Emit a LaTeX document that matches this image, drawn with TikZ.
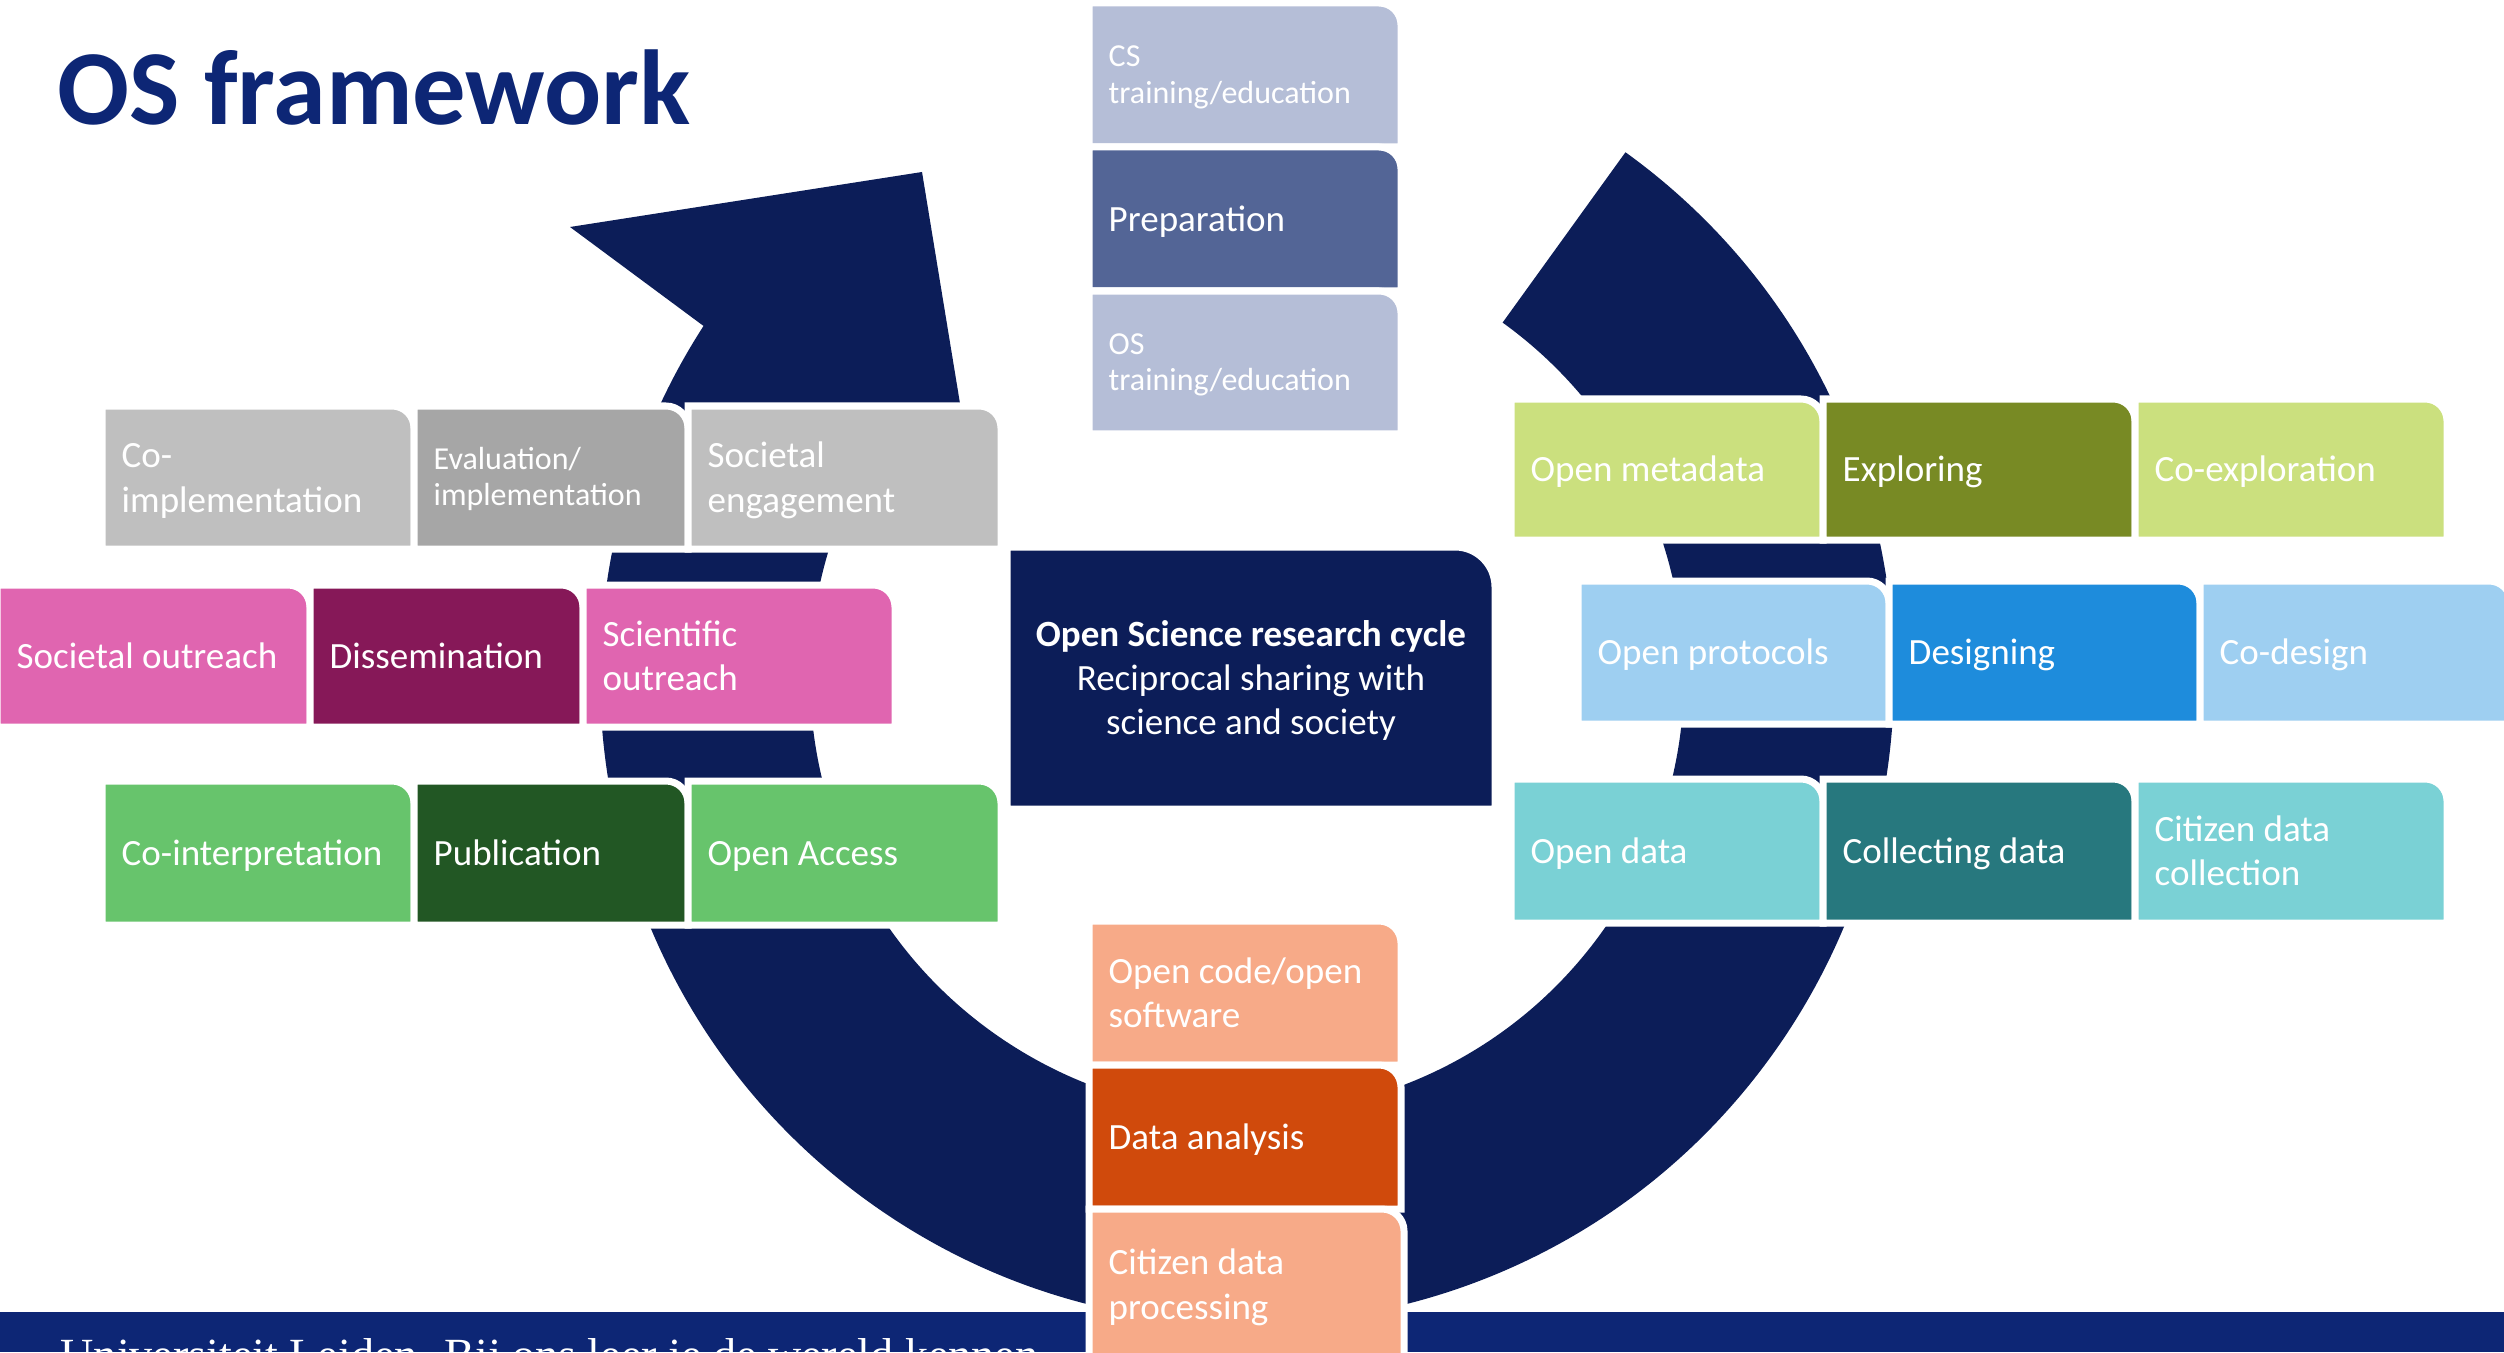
\documentclass[tikz,border=0pt]{standalone}
\usepackage{fontspec}
\setmainfont{Carlito}
\newfontfamily\bannerfont{Liberation Serif}
\definecolor{ringnavy}{RGB}{12,29,88}
\definecolor{leiden}{RGB}{13,38,117}
\definecolor{grayA}{RGB}{191,191,191}
\definecolor{grayB}{RGB}{166,166,166}
\definecolor{pinkA}{RGB}{224,101,176}
\definecolor{pinkB}{RGB}{134,24,88}
\definecolor{greenA}{RGB}{103,196,108}
\definecolor{greenB}{RGB}{34,87,36}
\definecolor{yellowA}{RGB}{203,224,126}
\definecolor{yellowB}{RGB}{120,138,36}
\definecolor{blueA}{RGB}{158,207,241}
\definecolor{blueB}{RGB}{30,140,220}
\definecolor{tealA}{RGB}{122,209,213}
\definecolor{tealB}{RGB}{39,120,126}
\definecolor{lavA}{RGB}{181,190,215}
\definecolor{lavB}{RGB}{83,101,150}
\definecolor{salmonA}{RGB}{247,170,136}
\definecolor{salmonB}{RGB}{208,74,12}
\newcommand\normtxt{\fontsize{10.53}{12.6}\selectfont}
\newcommand\smalltxt{\fontsize{9.1}{10.5}\selectfont}
\newcommand\tSx{}
\newcommand\bSx{}
\tikzset{
  boxshape/.style={draw=white, line width=0.07cm},
  boxtext/.style={text=white, inner sep=0pt, align=left, anchor=west, font=\normtxt,
    /utils/exec={\def\tSx{\rule{0pt}{10.1pt}}\def\bSx{\rule[-3pt]{0pt}{3pt}}}},
  smallboxtext/.style={boxtext, font=\smalltxt,
    /utils/exec={\def\tSx{\rule{0pt}{9pt}}\def\bSx{\rule[-3.3pt]{0pt}{3.3pt}}}},
}
% name, x1, y1, x2, y2, fill, text, text style
\newcommand\obox[8]{%
  \path[boxshape, fill=#6] (#2,#3) -- ({#4-22},#3) arc[start angle=-90, end angle=0, radius=22] -- (#4,#5) -- (#2,#5) -- cycle;
  \node[#8] (#1) at ({#2+19},{(#3+#5)/2}) {\tSx #7\bSx};
}
\begin{document}
\begin{tikzpicture}[x=0.01cm, y=-0.01cm]
\useasboundingbox (0,0) rectangle (2504,1352);
\begin{scope}
\clip (0,0) rectangle (2504,1352);
\fill[white] (0,0) rectangle (2504,1352);

% title
\node[anchor=base west, inner sep=0pt, text=leiden, font=\fontsize{30.3}{36}\selectfont\bfseries] (title) at (57,125) {OS framework};

% circular arrow
\begin{scope}[shift={(1247,677)}, yscale=-1]
  \fill[ringnavy] (54.2:647) arc[start angle=54.2, end angle=-212.86, radius=647]
    -- (-677,450) -- (-325,505) -- (-271,176)
    -- (147.14:437) arc[start angle=147.14, end angle=414.2, radius=437] -- cycle;
\end{scope}

% banner
\fill[leiden] (0,1312) rectangle (2504,1352);
\node[anchor=base west, inner sep=0pt, text=white, font=\bannerfont\fontsize{13.1}{15}\selectfont] (banner) at (60,1370) {Universiteit Leiden. Bij ons leer je de wereld kennen};

% left rows
\obox{coimpl}{102}{406}{414}{549}{grayA}{Co-\\implementation}{boxtext}
\obox{evalimpl}{414}{406}{688}{549}{grayB}{Evaluation/\\implementation}{smallboxtext}
\obox{soceng}{688}{406}{1001}{549}{grayA}{Societal\\engagement}{boxtext}

\obox{socout}{-3}{585}{310}{727}{pinkA}{Societal outreach}{boxtext}
\obox{dissem}{310}{585}{583}{727}{pinkB}{Dissemination}{boxtext}
\obox{sciout}{583}{585}{895}{727}{pinkA}{Scientific\\outreach}{boxtext}

\obox{cointerp}{102}{781}{414}{925}{greenA}{Co-interpretation}{boxtext}
\obox{pub}{414}{781}{688}{925}{greenB}{Publication}{boxtext}
\obox{openacc}{688}{781}{1001}{925}{greenA}{Open Access}{boxtext}

% top column
\obox{cstrain}{1089}{3}{1401}{147}{lavA}{CS\\training/education}{smallboxtext}
\obox{prep}{1089}{147}{1401}{291}{lavB}{Preparation}{boxtext}
\obox{ostrain}{1089}{291}{1401}{434}{lavA}{OS\\training/education}{smallboxtext}

% right rows
\obox{openmeta}{1511}{399}{1823}{540}{yellowA}{Open metadata}{boxtext}
\obox{exploring}{1823}{399}{2135}{540}{yellowB}{Exploring}{boxtext}
\obox{coexpl}{2135}{399}{2447}{540}{yellowA}{Co-exploration}{boxtext}

\obox{openprot}{1578}{581}{1889}{724}{blueA}{Open protocols}{boxtext}
\obox{designing}{1889}{581}{2200}{724}{blueB}{Designing}{boxtext}
\obox{codesign}{2200}{581}{2511}{724}{blueA}{Co-design}{boxtext}

\obox{opendata}{1511}{779}{1823}{923}{tealA}{Open data}{boxtext}
\obox{collecting}{1823}{779}{2135}{923}{tealB}{Collecting data}{boxtext}
\obox{citcoll}{2135}{779}{2447}{923}{tealA}{Citizen data\\collection}{boxtext}

% bottom column
\obox{opencode}{1089}{921}{1401}{1065}{salmonA}{Open code/open\\software}{boxtext}
\obox{dataan}{1089}{1065}{1401}{1209}{salmonB}{Data analysis}{boxtext}
\obox{citproc}{1089}{1209}{1404}{1360}{salmonA}{Citizen data\\processing}{boxtext}

% centre box
\path[boxshape, fill=ringnavy] (1007,547) -- (1455,547) arc[start angle=-90, end angle=0, radius=40] -- (1495,809) -- (1007,809) -- cycle;
\node[text=white, inner sep=0pt, align=center, font=\normtxt] (centre) at (1251,678)
  {\rule{0pt}{10.1pt}\textbf{Open Science research cycle}\\Reciprocal sharing with\\science and society\rule[-3pt]{0pt}{3pt}};
\end{scope}
\end{tikzpicture}
\end{document}
